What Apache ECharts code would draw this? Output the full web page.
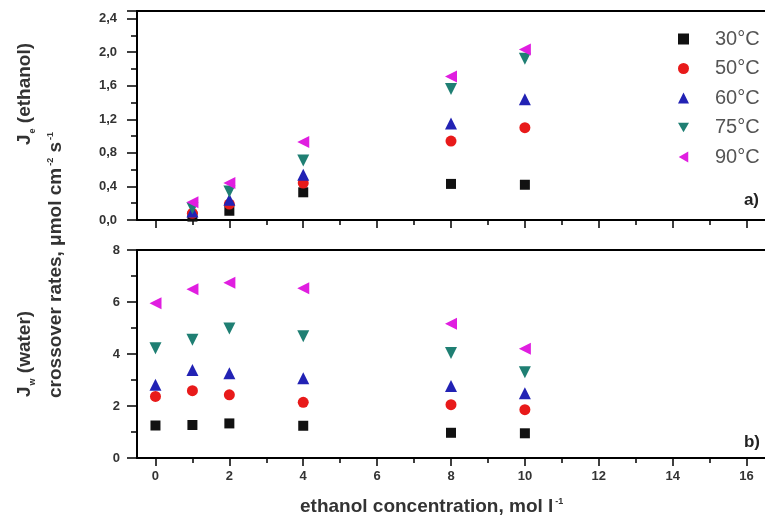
<!DOCTYPE html>
<html>
<head>
<meta charset="utf-8">
<script src="https://cdn.jsdelivr.net/npm/echarts@6/dist/echarts.min.js"></script>
<style>html,body{margin:0;padding:0;background:#fff}#c{width:765px;height:531px}</style>
</head>
<body>
<div id="c"></div>
<script>
// ---- data ----
const temps = ['30°C', '50°C', '60°C', '75°C', '90°C'];
const concEthanol = [1, 2, 4, 8, 10];
const concWater = [0, 1, 2, 4, 8, 10];
// ethanol crossover J_e (top panel)
const je30 = [0.04, 0.11, 0.33, 0.43, 0.42];
const je50 = [0.08, 0.19, 0.44, 0.94, 1.10];
const je60 = [0.10, 0.24, 0.54, 1.15, 1.44];
const je75 = [0.14, 0.34, 0.71, 1.56, 1.92];
const je90 = [0.21, 0.44, 0.93, 1.71, 2.03];
// water crossover J_w (bottom panel)
const jw30 = [1.25, 1.27, 1.33, 1.24, 0.97, 0.95];
const jw50 = [2.37, 2.59, 2.43, 2.14, 2.05, 1.86];
const jw60 = [2.82, 3.38, 3.26, 3.07, 2.77, 2.49];
const jw75 = [4.22, 4.55, 4.98, 4.68, 4.04, 3.30];
const jw90 = [5.95, 6.49, 6.74, 6.53, 5.16, 4.20];
const xMajor = [0, 2, 4, 6, 8, 10, 12, 14, 16];
const xMinor = [1, 3, 5, 7, 9, 11, 13, 15];

const topSets = [je30, je50, je60, je75, je90];
const botSets = [jw30, jw50, jw60, jw75, jw90];
const colors = ['#111111', '#e81a1a', '#2222b4', '#1f7f73', '#e01ee0'];
const symbols = ['rect', 'circle', 'triangle', 'triangle', 'triangle'];
const legendIcons = ['rect', 'circle', 'triangle', 'path://M0,0L10,0L5,8.66Z', 'path://M8.66,0L8.66,10L0,5Z'];
const sizes = [10, 11, 12, 12, 12];
const rots = [0, 0, 0, 180, 90];

const FONT = 'Liberation Sans, Arial, sans-serif';
const TS = 19;
const SUP = 9;
const lineStyle = { color: '#000', width: 2 };
const tickStyle = { color: '#000', width: 1.5 };

function xAxes(gridIndex, withLabels) {
  return [
    { type: 'value', gridIndex, min: -0.5, max: 16.5, position: 'bottom',
      axisLine: { show: true, lineStyle, onZero: false },
      axisTick: { show: true, customValues: xMajor, length: 8, lineStyle: tickStyle },
      axisLabel: { show: withLabels, customValues: xMajor, fontFamily: FONT, fontWeight: 'bold', fontSize: 13, color: '#333', margin: 12 },
      splitLine: { show: false } },
    { type: 'value', gridIndex, min: -0.5, max: 16.5, position: 'bottom',
      axisLine: { show: false },
      axisTick: { show: true, customValues: xMinor, length: 5, lineStyle: tickStyle },
      axisLabel: { show: false }, splitLine: { show: false } },
    { type: 'value', gridIndex, min: -0.5, max: 16.5, position: 'top',
      axisLine: { show: true, lineStyle, onZero: false },
      axisTick: { show: false }, axisLabel: { show: false }, splitLine: { show: false } }
  ];
}

function fmt(step, dec, comma) {
  return function (v) {
    const r = v / step;
    if (Math.abs(r - Math.round(r)) > 1e-6) return '';
    let s = v.toFixed(dec);
    return comma ? s.replace('.', ',') : s;
  };
}

const series = [];
temps.forEach((t, i) => {
  const common = { name: t, type: 'scatter', symbol: symbols[i], symbolSize: sizes[i], symbolRotate: rots[i],
    itemStyle: { color: colors[i], opacity: 1 }, z: 3 + i };
  series.push(Object.assign({}, common, { xAxisIndex: 0, yAxisIndex: 0,
    data: concEthanol.map((c, k) => [c, topSets[i][k]]) }));
  series.push(Object.assign({}, common, { xAxisIndex: 3, yAxisIndex: 1,
    data: concWater.map((c, k) => [c, botSets[i][k]]) }));
});

const richB = { fontFamily: FONT, fontWeight: 'bold', fontSize: TS, fill: '#333', verticalAlign: 'bottom' };
const richSub = { fontFamily: FONT, fontWeight: 'bold', fontSize: SUP, fill: '#333', verticalAlign: 'bottom', padding: [0, 0, -3, 1] };
const richSup = { fontFamily: FONT, fontWeight: 'bold', fontSize: SUP, fill: '#333', verticalAlign: 'top', padding: [0, 0, 0, 2] };

const chart = echarts.init(document.getElementById('c'), null, { renderer: 'canvas' });
chart.setOption({
  backgroundColor: '#fff',
  animation: false,
  textStyle: { fontFamily: FONT },
  grid: [
    { left: 137, top: 11, right: -10, height: 209 },
    { left: 137, top: 250, right: -10, height: 208 }
  ],
  xAxis: xAxes(0, false).concat(xAxes(1, true)),
  yAxis: [
    { type: 'value', gridIndex: 0, min: 0, max: 2.49, interval: 0.4,
      axisLine: { show: true, lineStyle, onZero: false },
      axisTick: { show: true, length: 10, lineStyle: tickStyle },
      minorTick: { show: true, splitNumber: 2, length: 6, lineStyle: tickStyle },
      axisLabel: { formatter: fmt(0.4, 1, true), fontFamily: FONT, fontWeight: 'bold', fontSize: 13, color: '#333', margin: 20 },
      splitLine: { show: false } },
    { type: 'value', gridIndex: 1, min: 0, max: 8, interval: 2,
      axisLine: { show: true, lineStyle, onZero: false },
      axisTick: { show: true, length: 10, lineStyle: tickStyle },
      minorTick: { show: true, splitNumber: 2, length: 6, lineStyle: tickStyle },
      axisLabel: { formatter: fmt(2, 0, false), fontFamily: FONT, fontWeight: 'bold', fontSize: 13, color: '#333', margin: 17 },
      splitLine: { show: false } }
  ],
  legend: {
    orient: 'vertical', left: 673, top: 24, itemWidth: 11, itemHeight: 11, itemGap: 9.5,
    data: temps.map((t, i) => ({ name: t, icon: legendIcons[i] })),
    textStyle: { fontFamily: FONT, fontSize: 20, color: '#555', lineHeight: 20, padding: [0, 0, 0, 21] }
  },
  graphic: [
    { type: 'text', x: 25, y: 145, rotation: Math.PI / 2,
      style: { text: '{b|J}{s|e}{b| (ethanol)}', align: 'left', verticalAlign: 'middle',
        rich: { b: richB, s: richSub } } },
    { type: 'text', x: 25, y: 397, rotation: Math.PI / 2,
      style: { text: '{b|J}{s|w}{b| (water)}', align: 'left', verticalAlign: 'middle',
        rich: { b: richB, s: richSub } } },
    { type: 'text', x: 56, y: 398, rotation: Math.PI / 2,
      style: { text: '{b|crossover rates, \u03bcmol cm}{p|-2}{b| s}{p|-1}', align: 'left', verticalAlign: 'middle',
        rich: { b: richB, p: richSup } } },
    { type: 'text', x: 300, y: 507,
      style: { text: '{b|ethanol concentration, mol l}{p|-1}', align: 'left', verticalAlign: 'middle',
        rich: { b: richB, p: richSup } } },
    { type: 'text', x: 759, y: 200, style: { text: 'a)', align: 'right', verticalAlign: 'middle',
        font: 'bold 17px ' + FONT, fill: '#222' } },
    { type: 'text', x: 760, y: 442, style: { text: 'b)', align: 'right', verticalAlign: 'middle',
        font: 'bold 17px ' + FONT, fill: '#222' } }
  ],
  series
});
</script>
</body>
</html>
